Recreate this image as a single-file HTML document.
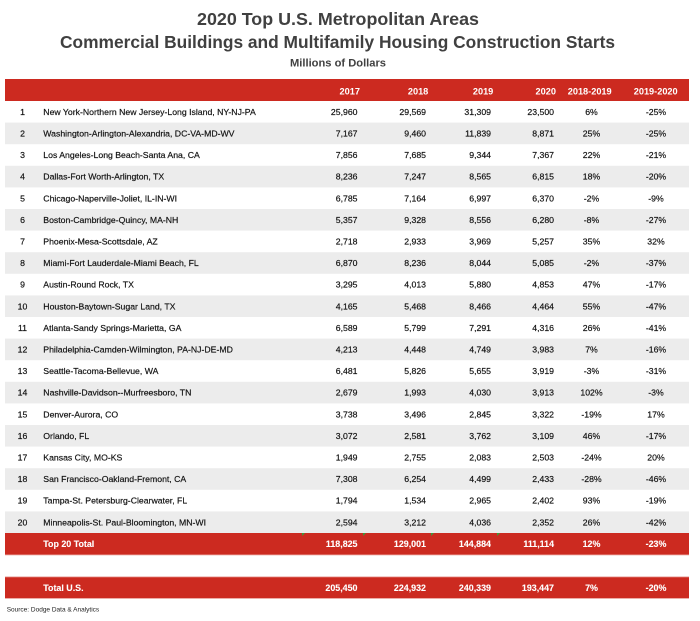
<!DOCTYPE html>
<html>
<head>
<meta charset="utf-8">
<style>
  html,body{margin:0;padding:0;background:#fff;}
  svg{display:block;}
  text{font-family:"Liberation Sans", Arial, sans-serif;}
</style>
</head>
<body>
<svg width="700" height="621" viewBox="0 0 700 621" xmlns="http://www.w3.org/2000/svg">
  <rect x="0" y="0" width="700" height="621" fill="#ffffff"/>

  <!-- Titles -->
  <g fill="#404040" font-weight="bold" text-anchor="middle">
    <text x="338" y="25" font-size="17.8" textLength="282" lengthAdjust="spacingAndGlyphs">2020 Top U.S. Metropolitan Areas</text>
    <text x="337.5" y="48" font-size="17.3" textLength="555" lengthAdjust="spacingAndGlyphs">Commercial Buildings and Multifamily Housing Construction Starts</text>
    <text x="338" y="66.5" font-size="10.8" textLength="96" lengthAdjust="spacingAndGlyphs">Millions of Dollars</text>
  </g>

  <!-- Header -->
  <rect x="5" y="79" width="684" height="22" fill="#cc2a20"/>

  <!-- Gray alternate rows (even rows) -->
  <g fill="#ececec">
    <rect x="5" y="122.6" width="684" height="21.6"/>
    <rect x="5" y="165.8" width="684" height="21.6"/>
    <rect x="5" y="209.0" width="684" height="21.6"/>
    <rect x="5" y="252.2" width="684" height="21.6"/>
    <rect x="5" y="295.4" width="684" height="21.6"/>
    <rect x="5" y="338.6" width="684" height="21.6"/>
    <rect x="5" y="381.8" width="684" height="21.6"/>
    <rect x="5" y="425.0" width="684" height="21.6"/>
    <rect x="5" y="468.2" width="684" height="21.6"/>
    <rect x="5" y="511.4" width="684" height="21.6"/>
  </g>

  <!-- Total rows -->
  <rect x="5" y="533" width="684" height="22" fill="#cc2a20"/>
  <rect x="5" y="554.5" width="684" height="0.8" fill="#e79a94"/>
  <rect x="5" y="577" width="684" height="21.5" fill="#cc2a20"/>
  <rect x="5" y="576.5" width="684" height="0.8" fill="#e79a94"/>
  <rect x="5" y="598" width="684" height="0.8" fill="#e79a94"/>

  <!-- tiny green error indicators -->
  <g fill="#3a9a3a">
    <polygon points="302,533 305,533 302,536"/>
    <polygon points="363,533 366,533 363,536"/>
    <polygon points="431,533 434,533 431,536"/>
    <polygon points="497,533 500,533 497,536"/>
  </g>

  <!-- Header labels -->
  <g fill="#ffffff" font-weight="bold" font-size="9.2">
    <g text-anchor="end">
      <text x="360" y="94.6">2017</text>
      <text x="428.3" y="94.6">2018</text>
      <text x="493.3" y="94.6">2019</text>
      <text x="556" y="94.6">2020</text>
    </g>
    <g text-anchor="middle">
      <text x="589.7" y="94.6">2018-2019</text>
      <text x="655.7" y="94.6">2019-2020</text>
    </g>
  </g>

  <!-- Data rows -->
  <g fill="#111" stroke="#111" stroke-width="0.18" font-size="8.7">
    <!-- rank -->
    <g text-anchor="middle">
      <text x="22.5" y="114.9">1</text>
      <text x="22.5" y="136.5">2</text>
      <text x="22.5" y="158.1">3</text>
      <text x="22.5" y="179.7">4</text>
      <text x="22.5" y="201.3">5</text>
      <text x="22.5" y="222.9">6</text>
      <text x="22.5" y="244.5">7</text>
      <text x="22.5" y="266.1">8</text>
      <text x="22.5" y="287.7">9</text>
      <text x="22.5" y="309.3">10</text>
      <text x="22.5" y="330.9">11</text>
      <text x="22.5" y="352.5">12</text>
      <text x="22.5" y="374.1">13</text>
      <text x="22.5" y="395.7">14</text>
      <text x="22.5" y="417.3">15</text>
      <text x="22.5" y="438.9">16</text>
      <text x="22.5" y="460.5">17</text>
      <text x="22.5" y="482.1">18</text>
      <text x="22.5" y="503.7">19</text>
      <text x="22.5" y="525.3">20</text>
    </g>
    <!-- names -->
    <g text-anchor="start">
      <text x="43.3" y="114.9">New York-Northern New Jersey-Long Island, NY-NJ-PA</text>
      <text x="43.3" y="136.5">Washington-Arlington-Alexandria, DC-VA-MD-WV</text>
      <text x="43.3" y="158.1">Los Angeles-Long Beach-Santa Ana, CA</text>
      <text x="43.3" y="179.7">Dallas-Fort Worth-Arlington, TX</text>
      <text x="43.3" y="201.3">Chicago-Naperville-Joliet, IL-IN-WI</text>
      <text x="43.3" y="222.9">Boston-Cambridge-Quincy, MA-NH</text>
      <text x="43.3" y="244.5">Phoenix-Mesa-Scottsdale, AZ</text>
      <text x="43.3" y="266.1">Miami-Fort Lauderdale-Miami Beach, FL</text>
      <text x="43.3" y="287.7">Austin-Round Rock, TX</text>
      <text x="43.3" y="309.3">Houston-Baytown-Sugar Land, TX</text>
      <text x="43.3" y="330.9">Atlanta-Sandy Springs-Marietta, GA</text>
      <text x="43.3" y="352.5">Philadelphia-Camden-Wilmington, PA-NJ-DE-MD</text>
      <text x="43.3" y="374.1">Seattle-Tacoma-Bellevue, WA</text>
      <text x="43.3" y="395.7">Nashville-Davidson--Murfreesboro, TN</text>
      <text x="43.3" y="417.3">Denver-Aurora, CO</text>
      <text x="43.3" y="438.9">Orlando, FL</text>
      <text x="43.3" y="460.5">Kansas City, MO-KS</text>
      <text x="43.3" y="482.1">San Francisco-Oakland-Fremont, CA</text>
      <text x="43.3" y="503.7">Tampa-St. Petersburg-Clearwater, FL</text>
      <text x="43.3" y="525.3">Minneapolis-St. Paul-Bloomington, MN-WI</text>
    </g>
    <!-- 2017 -->
    <g text-anchor="end">
      <text x="357.5" y="114.9">25,960</text>
      <text x="357.5" y="136.5">7,167</text>
      <text x="357.5" y="158.1">7,856</text>
      <text x="357.5" y="179.7">8,236</text>
      <text x="357.5" y="201.3">6,785</text>
      <text x="357.5" y="222.9">5,357</text>
      <text x="357.5" y="244.5">2,718</text>
      <text x="357.5" y="266.1">6,870</text>
      <text x="357.5" y="287.7">3,295</text>
      <text x="357.5" y="309.3">4,165</text>
      <text x="357.5" y="330.9">6,589</text>
      <text x="357.5" y="352.5">4,213</text>
      <text x="357.5" y="374.1">6,481</text>
      <text x="357.5" y="395.7">2,679</text>
      <text x="357.5" y="417.3">3,738</text>
      <text x="357.5" y="438.9">3,072</text>
      <text x="357.5" y="460.5">1,949</text>
      <text x="357.5" y="482.1">7,308</text>
      <text x="357.5" y="503.7">1,794</text>
      <text x="357.5" y="525.3">2,594</text>
    </g>
    <!-- 2018 -->
    <g text-anchor="end">
      <text x="426" y="114.9">29,569</text>
      <text x="426" y="136.5">9,460</text>
      <text x="426" y="158.1">7,685</text>
      <text x="426" y="179.7">7,247</text>
      <text x="426" y="201.3">7,164</text>
      <text x="426" y="222.9">9,328</text>
      <text x="426" y="244.5">2,933</text>
      <text x="426" y="266.1">8,236</text>
      <text x="426" y="287.7">4,013</text>
      <text x="426" y="309.3">5,468</text>
      <text x="426" y="330.9">5,799</text>
      <text x="426" y="352.5">4,448</text>
      <text x="426" y="374.1">5,826</text>
      <text x="426" y="395.7">1,993</text>
      <text x="426" y="417.3">3,496</text>
      <text x="426" y="438.9">2,581</text>
      <text x="426" y="460.5">2,755</text>
      <text x="426" y="482.1">6,254</text>
      <text x="426" y="503.7">1,534</text>
      <text x="426" y="525.3">3,212</text>
    </g>
    <!-- 2019 -->
    <g text-anchor="end">
      <text x="491" y="114.9">31,309</text>
      <text x="491" y="136.5">11,839</text>
      <text x="491" y="158.1">9,344</text>
      <text x="491" y="179.7">8,565</text>
      <text x="491" y="201.3">6,997</text>
      <text x="491" y="222.9">8,556</text>
      <text x="491" y="244.5">3,969</text>
      <text x="491" y="266.1">8,044</text>
      <text x="491" y="287.7">5,880</text>
      <text x="491" y="309.3">8,466</text>
      <text x="491" y="330.9">7,291</text>
      <text x="491" y="352.5">4,749</text>
      <text x="491" y="374.1">5,655</text>
      <text x="491" y="395.7">4,030</text>
      <text x="491" y="417.3">2,845</text>
      <text x="491" y="438.9">3,762</text>
      <text x="491" y="460.5">2,083</text>
      <text x="491" y="482.1">4,499</text>
      <text x="491" y="503.7">2,965</text>
      <text x="491" y="525.3">4,036</text>
    </g>
    <!-- 2020 -->
    <g text-anchor="end">
      <text x="554" y="114.9">23,500</text>
      <text x="554" y="136.5">8,871</text>
      <text x="554" y="158.1">7,367</text>
      <text x="554" y="179.7">6,815</text>
      <text x="554" y="201.3">6,370</text>
      <text x="554" y="222.9">6,280</text>
      <text x="554" y="244.5">5,257</text>
      <text x="554" y="266.1">5,085</text>
      <text x="554" y="287.7">4,853</text>
      <text x="554" y="309.3">4,464</text>
      <text x="554" y="330.9">4,316</text>
      <text x="554" y="352.5">3,983</text>
      <text x="554" y="374.1">3,919</text>
      <text x="554" y="395.7">3,913</text>
      <text x="554" y="417.3">3,322</text>
      <text x="554" y="438.9">3,109</text>
      <text x="554" y="460.5">2,503</text>
      <text x="554" y="482.1">2,433</text>
      <text x="554" y="503.7">2,402</text>
      <text x="554" y="525.3">2,352</text>
    </g>
    <!-- 2018-2019 -->
    <g text-anchor="middle">
      <text x="591.5" y="114.9">6%</text>
      <text x="591.5" y="136.5">25%</text>
      <text x="591.5" y="158.1">22%</text>
      <text x="591.5" y="179.7">18%</text>
      <text x="591.5" y="201.3">-2%</text>
      <text x="591.5" y="222.9">-8%</text>
      <text x="591.5" y="244.5">35%</text>
      <text x="591.5" y="266.1">-2%</text>
      <text x="591.5" y="287.7">47%</text>
      <text x="591.5" y="309.3">55%</text>
      <text x="591.5" y="330.9">26%</text>
      <text x="591.5" y="352.5">7%</text>
      <text x="591.5" y="374.1">-3%</text>
      <text x="591.5" y="395.7">102%</text>
      <text x="591.5" y="417.3">-19%</text>
      <text x="591.5" y="438.9">46%</text>
      <text x="591.5" y="460.5">-24%</text>
      <text x="591.5" y="482.1">-28%</text>
      <text x="591.5" y="503.7">93%</text>
      <text x="591.5" y="525.3">26%</text>
    </g>
    <!-- 2019-2020 -->
    <g text-anchor="middle">
      <text x="656" y="114.9">-25%</text>
      <text x="656" y="136.5">-25%</text>
      <text x="656" y="158.1">-21%</text>
      <text x="656" y="179.7">-20%</text>
      <text x="656" y="201.3">-9%</text>
      <text x="656" y="222.9">-27%</text>
      <text x="656" y="244.5">32%</text>
      <text x="656" y="266.1">-37%</text>
      <text x="656" y="287.7">-17%</text>
      <text x="656" y="309.3">-47%</text>
      <text x="656" y="330.9">-41%</text>
      <text x="656" y="352.5">-16%</text>
      <text x="656" y="374.1">-31%</text>
      <text x="656" y="395.7">-3%</text>
      <text x="656" y="417.3">17%</text>
      <text x="656" y="438.9">-17%</text>
      <text x="656" y="460.5">20%</text>
      <text x="656" y="482.1">-46%</text>
      <text x="656" y="503.7">-19%</text>
      <text x="656" y="525.3">-42%</text>
    </g>
  </g>

  <!-- Total rows text -->
  <g fill="#ffffff" stroke="#ffffff" stroke-width="0.1" font-size="8.9" font-weight="bold">
    <text x="43.3" y="547.2">Top 20 Total</text>
    <g text-anchor="end">
      <text x="357.5" y="547.2">118,825</text>
      <text x="426" y="547.2">129,001</text>
      <text x="491" y="547.2">144,884</text>
      <text x="554" y="547.2">111,114</text>
    </g>
    <g text-anchor="middle">
      <text x="591.5" y="547.2">12%</text>
      <text x="656" y="547.2">-23%</text>
    </g>

    <text x="43.3" y="590.8">Total U.S.</text>
    <g text-anchor="end">
      <text x="357.5" y="590.8">205,450</text>
      <text x="426" y="590.8">224,932</text>
      <text x="491" y="590.8">240,339</text>
      <text x="554" y="590.8">193,447</text>
    </g>
    <g text-anchor="middle">
      <text x="591.5" y="590.8">7%</text>
      <text x="656" y="590.8">-20%</text>
    </g>
  </g>

  <!-- Source -->
  <text x="6.7" y="611.3" font-size="6.5" fill="#222">Source: Dodge Data &amp; Analytics</text>
</svg>
</body>
</html>
